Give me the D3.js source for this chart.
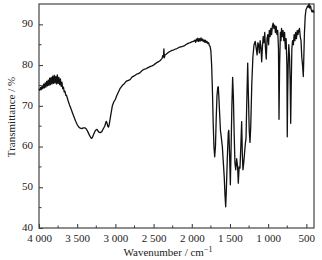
<!DOCTYPE html>
<html>
<head>
<meta charset="utf-8">
<script src="https://cdn.jsdelivr.net/npm/d3@7"></script>
<style>
  body { margin: 0; background: #fff; }
  text { font-family: "Liberation Serif", "Times New Roman", serif; fill: #222; }
</style>
</head>
<body>
<div id="chart"></div>
<script>
// IR spectrum: wavenumber (cm-1) and transmittance (%)
var wavenumbers = [4000,3990,3980,3970,3960,3950,3940,3930,3920,3910,3900,3890,3880,3870,3860,3850,3840,3830,3820,3810,3800,3790,3780,3770,3760,3750,3740,3730,3720,3710,3700,3690,3680,3670,3660,3650,3640,3620,3600,3580,3560,3540,3520,3500,3480,3460,3440,3420,3400,3380,3360,3340,3320,3310,3300,3280,3260,3240,3220,3200,3180,3160,3140,3120,3110,3100,3090,3080,3060,3040,3020,3000,2980,2960,2940,2920,2900,2880,2860,2840,2820,2800,2780,2760,2740,2720,2700,2680,2660,2640,2620,2600,2580,2560,2540,2520,2500,2480,2460,2440,2420,2400,2390,2380,2370,2365,2360,2350,2340,2320,2300,2280,2260,2240,2220,2200,2180,2160,2140,2120,2100,2080,2060,2040,2020,2000,1980,1960,1950,1940,1930,1920,1910,1900,1890,1880,1870,1860,1850,1840,1830,1820,1810,1800,1790,1780,1770,1760,1750,1740,1730,1720,1710,1700,1690,1680,1670,1660,1653,1645,1635,1625,1615,1600,1590,1575,1565,1556,1548,1535,1522,1515,1505,1495,1485,1475,1465,1455,1445,1435,1425,1412,1400,1391,1380,1369,1358,1347,1338,1330,1320,1313,1300,1290,1281,1268,1258,1248,1238,1228,1215,1200,1185,1170,1155,1145,1135,1125,1115,1105,1095,1085,1075,1065,1055,1045,1035,1025,1015,1005,995,985,975,965,955,945,935,925,915,905,895,885,875,865,858,850,840,832,825,815,805,795,785,775,765,755,750,745,738,730,720,712,705,698,690,680,670,660,650,640,630,620,610,600,590,580,570,560,550,540,533,525,515,505,495,485,475,465,455,445,435,425,415,405,400];
var transmittance = [74.2,73.8,74.5,74.0,74.9,74.2,75.3,74.4,75.6,74.6,76.0,74.9,76.3,75.0,76.8,75.2,77.0,75.4,77.3,75.5,77.5,75.6,77.2,75.4,77.6,75.5,77.0,75.2,76.6,74.8,75.8,74.2,74.6,73.4,73.6,72.6,72.6,71.3,70.2,69.2,68.2,67.2,66.2,65.4,64.8,64.5,64.4,64.6,64.6,64.3,63.6,62.8,62.1,62.0,62.3,63.2,64.0,64.2,63.6,63.4,63.6,64.3,65.0,66.2,65.8,65.0,64.8,65.5,67.8,70.0,71.0,71.6,72.6,73.4,74.2,74.7,75.2,75.5,76.0,76.2,76.3,76.6,77.1,77.3,77.5,77.8,77.9,78.1,78.5,78.8,79.0,79.1,79.3,79.5,79.7,79.8,80.0,80.3,80.6,80.8,81.0,81.4,81.6,82.3,82.0,84.0,81.8,82.5,82.6,82.9,83.2,83.4,83.6,83.7,83.9,84.0,84.2,84.4,84.5,84.6,84.7,85.0,85.2,85.4,85.5,85.7,85.8,86.1,85.6,86.4,85.9,86.6,85.8,86.5,85.9,86.7,86.0,86.4,85.8,86.2,85.6,86.1,85.5,85.8,85.3,85.5,84.8,84.6,83.5,80.0,74.0,66.0,60.0,57.5,60.0,67.0,72.5,74.5,74.7,72.0,68.0,64.0,62.5,60.0,57.0,52.5,48.0,45.2,49.0,57.0,63.5,64.0,58.0,50.6,60.0,70.0,77.0,72.0,63.0,56.0,54.3,57.0,55.0,51.0,55.0,54.7,60.0,66.1,58.0,54.3,56.0,57.5,60.5,62.0,70.0,80.5,72.0,64.0,61.0,65.0,75.0,82.0,85.0,85.8,84.0,82.5,85.5,85.0,83.0,86.0,84.5,80.8,84.5,87.0,85.5,88.0,84.0,81.5,86.5,87.5,85.0,88.5,87.0,89.0,87.5,89.5,90.3,89.0,89.8,88.0,89.5,87.5,88.5,84.0,66.7,80.0,88.0,86.0,89.0,87.0,88.5,86.0,88.0,84.0,86.5,80.0,62.4,72.0,80.0,85.0,82.0,76.0,65.7,75.0,84.0,86.0,85.0,87.5,86.0,88.0,86.5,88.5,87.5,88.5,89.0,87.0,86.0,82.0,80.0,77.2,82.0,88.0,92.0,93.6,94.0,94.5,94.2,95.0,94.0,94.5,93.5,93.0,93.5,93.0,93.2];

var xTicks = [4000, 3500, 3000, 2500, 2000, 1500, 1000, 500];
var yTicks = [40, 50, 60, 70, 80, 90];

var margin = {top: 4, right: 8, bottom: 32, left: 39},
  width = 322 - margin.left - margin.right,
  height = 260 - margin.top - margin.bottom;

var svg = d3.select("#chart").append("svg")
  .attr("width", 322)
  .attr("height", 260);

var g = svg.append("g")
  .attr("transform", "translate(" + margin.left + "," + margin.top + ")");

var x = d3.scaleLinear().domain([4000, 400]).range([0, width]);
var y = d3.scaleLinear().domain([40, 95]).range([height, 0]);

// minor ticks first, then majors with labels (ticks point inwards)
var xMinor = d3.range(3750, 400, -500);
var yMinor = d3.range(45, 95, 10);

g.selectAll(".xminor").data(xMinor).enter().append("line")
  .attr("x1", d => x(d)).attr("x2", d => x(d))
  .attr("y1", height).attr("y2", height - 2.5)
  .attr("stroke", "#333");

g.selectAll(".yminor").data(yMinor).enter().append("line")
  .attr("x1", 0).attr("x2", 2.5)
  .attr("y1", d => y(d)).attr("y2", d => y(d))
  .attr("stroke", "#333");

var xAxis = d3.axisBottom(x)
  .tickValues(xTicks)
  .tickSizeInner(-4).tickSizeOuter(0)
  .tickPadding(6)
  .tickFormat(d => d3.format(",")(d).replace(",", " "));

var yAxis = d3.axisLeft(y)
  .tickValues(yTicks)
  .tickSizeInner(-4).tickSizeOuter(0)
  .tickPadding(6);

var gx = g.append("g")
  .attr("transform", "translate(0," + height + ")")
  .call(xAxis);
var gy = g.append("g").call(yAxis);

[gx, gy].forEach(function(a) {
  a.select(".domain").remove();
  a.selectAll("line").attr("stroke", "#333");
  a.selectAll("text")
    .style("font-family", "'Liberation Serif', serif")
    .style("font-size", "11px")
    .attr("fill", "#222");
});
// lift the y labels a touch so "40" clears "4 000"
gy.selectAll("text").attr("dy", "0.2em");

// frame
g.append("rect")
  .attr("x", 0).attr("y", 0)
  .attr("width", width).attr("height", height)
  .attr("fill", "none")
  .attr("stroke", "#444")
  .attr("stroke-width", 1.2);

// spectrum
var pts = wavenumbers.map(function(w, i) { return [w, transmittance[i]]; });
var line = d3.line()
  .x(d => x(d[0]))
  .y(d => y(d[1]));

g.append("path")
  .datum(pts)
  .attr("d", line)
  .attr("fill", "none")
  .attr("stroke", "#111")
  .attr("stroke-width", 1.3)
  .attr("stroke-linejoin", "round");

// axis labels
var xl = svg.append("text")
  .attr("x", 168)
  .attr("y", 256)
  .attr("text-anchor", "middle")
  .style("font-size", "11px");
xl.append("tspan").text("Wavenumber / cm");
xl.append("tspan").attr("dy", -4).style("font-size", "8px").text("\u22121");

svg.append("text")
  .attr("transform", "translate(15,117) rotate(-90)")
  .attr("text-anchor", "middle")
  .style("font-size", "11px")
  .text("Transmittance / %");
</script>
</body>
</html>
